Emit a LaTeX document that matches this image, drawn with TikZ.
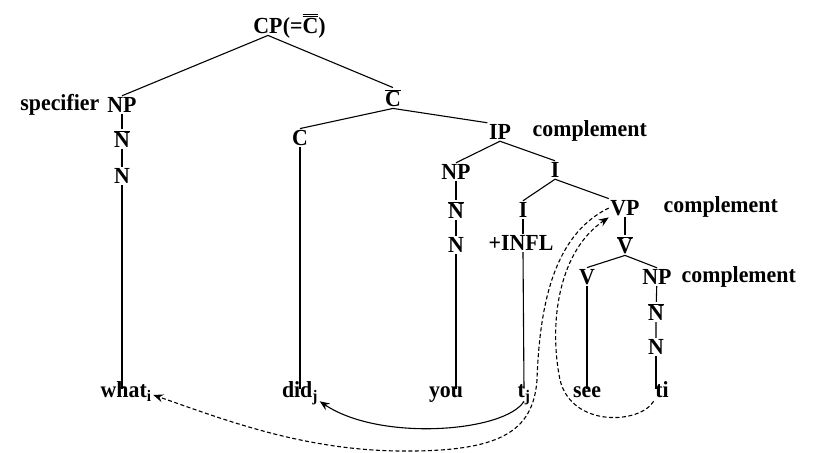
\documentclass[tikz,border=0pt]{standalone}
\usepackage{fontspec}
\setmainfont{Liberation Serif}[FakeStretch=0.95]
\usetikzlibrary{arrows.meta}

\newcommand{\ovl}[1]{$\overline{\hbox{#1}}$}
\newcommand{\dovl}[1]{$\overline{\overline{\hbox{#1}}}$}

\tikzset{
  every node/.style={font=\fontsize{23}{25}\selectfont\bfseries, inner sep=1.5pt},
  leaf/.style={text height=1.6ex, text depth=0.4ex},
  branch/.style={line width=1.1pt},
  move/.style={line width=1.1pt, -{Stealth[length=10pt,width=8pt,inset=3.5pt]}},
  movedash/.style={move, dash pattern=on 4pt off 2.5pt},
}

\begin{document}
\begin{tikzpicture}[x=1pt,y=-1pt]
        \useasboundingbox (0,0) rectangle (823,453);

        % Top
        \node[inner xsep=0pt] (cp) at (268,26) {CP};
        \node[anchor=west, inner xsep=0pt] (cpeq) at (cp.east) {(=\dovl{C})};

        % Specifier
        \node (np1) at (122,105) {NP};
        \node[anchor=east] (spec) at (101,105) {specifier};
        \node (n1bar) at (122,139) {\ovl{N}};
        \node (n1) at (122,176) {N};
        \node[leaf, anchor=west] (what) at (99,395) {what\textsubscript{i}};

        % C-bar and C
        \node (cbar) at (393,98) {\ovl{C}};
        \node (c) at (300,138) {C};
        \node[leaf] (did) at (300,395) {did\textsubscript{j}};

        % IP
        \node (ip) at (500,132) {IP};
        \node[anchor=west] (ipcomp) at (531,131) {complement};
        \node (np2) at (456,172) {NP};
        \node (n2bar) at (456,210) {\ovl{N}};
        \node (n2) at (456,245) {N};
        \node[leaf] (you) at (446,395) {you};
        \node (i1) at (555,170) {I};
        \node (i2) at (523,210) {I};
        \node (infl) at (521,243) {+INFL};
        \node[leaf] (tj) at (524,395) {t\textsubscript{j}};

        % VP
        \node (vp) at (625,208) {VP};
        \node[anchor=west] (vpcomp) at (662,207) {complement};
        \node (vbar) at (625,245) {\ovl{V}};
        \node (v) at (587,277) {V};
        \node[leaf] (see) at (587,395) {see};
        \node (np3) at (657,277) {NP};
        \node[anchor=west] (npcomp) at (680,277) {complement};
        \node (n3bar) at (656,312) {\ovl{N}};
        \node (n3) at (656,347) {N};
        \node[leaf] (ti) at (662,395) {ti};

        % Branches
        \draw[branch] (cp.south) -- (np1.north);
        \draw[branch] (cp.south) -- (cbar.north);
        \draw[branch] (np1) -- (n1bar) -- (n1);
        \draw[branch] (n1.south) -- (n1 |- what.north);
        \draw[branch] (cbar.south) -- (c.north);
        \draw[branch] (cbar.south) -- (ip.north west);
        \draw[branch] (c.south) -- (c |- did.north);
        \draw[branch] (ip.south) -- (np2.north);
        \draw[branch] (ip.south) -- (i1.north);
        \draw[branch] (np2) -- (n2bar) -- (n2);
        \draw[branch] (n2.south) -- (n2 |- you.north);
        \draw[branch] (i1.south) -- (i2.north);
        \draw[branch] (i1.south) -- (vp.north west);
        \draw[branch] (i2) -- (i2 |- infl.north);
        \draw[branch] (i2 |- infl.south) -- (tj.north);
        \draw[branch] (vp) -- (vbar);
        \draw[branch] (vbar.south) -- (v.north);
        \draw[branch] (vbar.south) -- (np3.north);
        \draw[branch] (v.south) -- (v |- see.north);
        \draw[branch] (np3) -- (n3bar) -- (n3);
        \draw[branch] (n3.south) -- (n3 |- ti.north);

        % Movements
        \draw[move] (tj.south) .. controls (505,432) and (380,442) .. (did.south east);
        \draw[movedash] (ti.south west) .. controls (640,424) and (572,428) .. (560,380)
              .. controls (548,320) and (560,250) .. (vp.south west);
        \draw[movedash] (vp.west) .. controls (560,232) and (540,290) .. (537,380)
              .. controls (533,432) and (500,452) .. (400,451)
              .. controls (300,450) and (220,418) .. (what.east);
    \end{tikzpicture}
\end{document}
